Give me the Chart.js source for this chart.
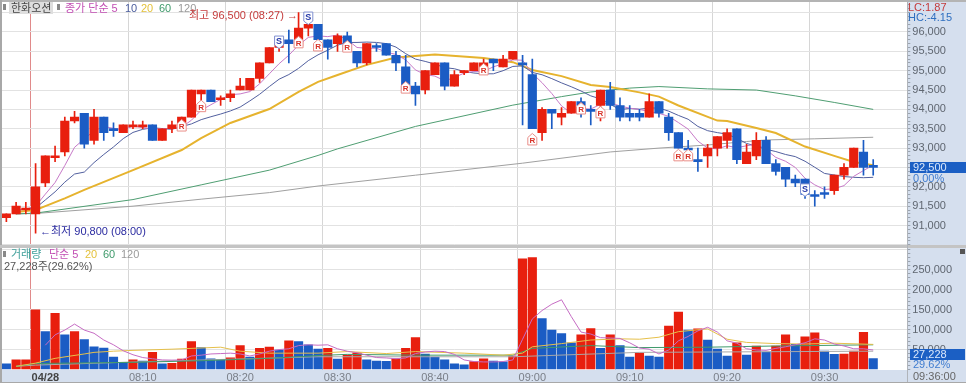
<!DOCTYPE html>
<html lang="ko"><head><meta charset="utf-8"><title>한화오션</title>
<script src="https://cdn.jsdelivr.net/npm/chart.js@4/dist/chart.umd.min.js"></script>
<style>
html,body{margin:0;padding:0;background:#d5dfee;overflow:hidden}
#w{position:relative;width:966px;height:383px;overflow:hidden;background:#d5dfee;font:11px "Liberation Sans","Noto Sans CJK KR",sans-serif;filter:blur(0.35px)}
canvas{position:absolute;left:0;display:block}
#w span{position:absolute;line-height:14px;white-space:nowrap}
#w i{position:absolute;display:block}
</style></head><body>
<div id="w">
<canvas id="priceCanvas" width="966" height="246" style="top:0"></canvas>
<canvas id="volCanvas" width="966" height="137" style="top:246px"></canvas>
<i style="left:0;top:0;width:966px;height:2px;background:#b4b4b4"></i>
<i style="left:0;top:0;width:2px;height:383px;background:#a8a8a8"></i>
<i style="left:0;top:245px;width:966px;height:3px;background:#c4c4c4"></i>
<i style="left:907px;top:0;width:1px;height:383px;background:#b0b4ba"></i>
<i style="left:0;top:382px;width:966px;height:1px;background:#a8a8a8"></i>
<i style="left:3px;top:4px;width:3px;height:6px;background:#888"></i>
<i style="left:9px;top:2px;width:44px;height:12px;background:#dedede"></i>
<span style="left:11px;top:1px;color:#444">한화오션</span>
<i style="left:57px;top:4px;width:3px;height:6px;background:#888"></i>
<span style="left:65px;top:1px;color:#c24fb4">종가 단순 5</span>
<span style="left:125px;top:1px;color:#4a5c9c">10</span>
<span style="left:141px;top:1px;color:#e4c23c">20</span>
<span style="left:159px;top:1px;color:#3f9a6b">60</span>
<span style="left:178px;top:1px;color:#9a9a9a">120</span>
<span style="left:189px;top:8px;color:#c43a3a">최고 96,500 (08:27) →</span>
<span style="left:40px;top:224px;color:#2b2ba0">←최저 90,800 (08:00)</span>
<span style="left:908px;top:0;color:#c43a3a">LC:1.87</span>
<span style="left:908px;top:10px;color:#2f6fc0">HC:-4.15</span>
<i style="left:910px;top:162px;width:56px;height:11px;background:#1b5fc4"></i>
<span style="left:913px;top:160px;color:#dbe8fb">92,500</span>
<span style="left:913px;top:171px;color:#3f7cd0">0.00%</span>
<i style="left:3px;top:251px;width:3px;height:6px;background:#888"></i>
<span style="left:11px;top:247px;color:#3f9f9a">거래량</span>
<span style="left:49px;top:247px;color:#c24fb4">단순 5</span>
<span style="left:85px;top:247px;color:#e4c23c">20</span>
<span style="left:103px;top:247px;color:#3f9a6b">60</span>
<span style="left:121px;top:247px;color:#9a9a9a">120</span>
<span style="left:4px;top:259px;color:#555">27,228주(29.62%)</span>
<i style="left:960px;top:249px;width:5px;height:5px;background:#555"></i>
<i style="left:910px;top:349px;width:55px;height:11px;background:#1b5fc4"></i>
<span style="left:913px;top:347px;color:#dbe8fb">27,228</span>
<span style="left:913px;top:357px;color:#3f7cd0">29.62%</span>
<span style="left:913px;top:369px;color:#666">09:36:00</span>
</div>
<script>
const categories=['07:57','07:58','07:59','08:00','08:01','08:02','08:03','08:04','08:05','08:06','08:07','08:08','08:09','08:10','08:11','08:12','08:13','08:14','08:15','08:16','08:17','08:18','08:19','08:20','08:21','08:22','08:23','08:24','08:25','08:26','08:27','08:28','08:29','08:30','08:31','08:32','08:33','08:34','08:35','08:36','08:37','08:38','08:39','08:40','08:41','08:42','08:43','08:44','08:45','08:46','08:47','08:48','08:49','09:00','09:01','09:02','09:03','09:04','09:05','09:06','09:07','09:08','09:09','09:10','09:11','09:12','09:13','09:14','09:15','09:16','09:17','09:18','09:19','09:20','09:21','09:22','09:23','09:24','09:25','09:26','09:27','09:28','09:29','09:30','09:31','09:32','09:33','09:34','09:35','09:36','09:37','09:38','09:39'];
const xTickBars=['08:00','08:10','08:20','08:30','08:40','09:00','09:10','09:20','09:30'];
const xTickLabels=['04/28','08:10','08:20','08:30','08:40','09:00','09:10','09:20','09:30'];
const priceTicks=[91000,91500,92000,92500,93000,93500,94000,94500,95000,95500,96000];
const volTicks=[50000,100000,150000,200000,250000];
const opens=[91200,91300,91400,91300,92100,92750,92900,93700,93900,93200,93800,93500,93400,93550,93550,93600,93200,93500,93600,93800,94400,94500,94250,94300,94500,94500,94800,95200,95600,95800,95650,96100,96200,95800,95700,95900,95500,95200,95600,95700,95400,95100,94600,94500,94900,95200,94600,94950,95000,95000,95300,95100,95300,95200,94900,93400,94000,93800,93900,94200,94000,94100,94500,94100,93900,93900,93800,94200,93800,93400,93000,92700,92800,93000,93200,93500,92600,92800,93200,92600,92500,92200,92200,91800,91800,91900,92300,92500,92900,92500];
const closes=[91300,91500,91450,92000,92800,92800,93700,93800,93100,93800,93400,93450,93600,93600,93600,93200,93500,93600,93800,94500,94500,94200,94300,94400,94600,94800,95200,95600,95700,95700,96100,96200,95800,95600,95900,95500,95200,95700,95600,95400,95200,94500,94400,95000,95200,94600,94900,95000,95200,95200,95200,95300,95500,95150,93500,94000,93900,93900,94200,94100,93950,94500,94100,93800,93800,93800,94200,93900,93400,93000,92950,92650,93000,93300,93400,92700,92900,93200,92600,92400,92200,92100,91800,91750,91800,92300,92500,93000,92500,92500];
const highs=[91300,91600,91600,92600,92800,93050,93800,93950,93900,94000,93800,93650,93600,93700,93700,93600,93500,93700,93800,94500,94500,94500,94350,94500,94800,94800,95200,95600,95800,96050,96500,96300,96200,95800,95950,96000,95500,95700,95700,95700,95500,95400,94700,95000,95200,95200,95000,95000,95200,95300,95300,95400,95500,95400,95300,94050,94000,94050,94200,94300,94100,94500,94700,94300,94100,94000,94400,94200,93900,93400,93200,93000,93100,93300,93500,93500,93100,93400,93300,92700,92500,92300,92200,91900,92000,92300,92600,93000,93200,92700];
const lows=[91100,91300,91300,90800,92000,92650,92800,93650,93000,93100,93200,93300,93400,93500,93500,93200,93200,93400,93600,93800,94200,94200,94100,94200,94500,94500,94700,95200,95500,95200,95650,95900,95800,95300,95500,95500,95100,95150,95500,95400,95000,94500,94100,94400,94900,94500,94600,94900,95000,94900,95000,95100,95300,93600,93500,93200,93500,93600,93900,93800,93600,93700,94000,93700,93700,93700,93800,93800,93200,93000,92700,92400,92500,92800,93000,92600,92600,92700,92600,92300,92000,92000,91700,91500,91700,91800,92200,92500,92300,92300];
const ma5=[null,91400,91420,91500,91810,92110,92550,93020,93240,93440,93560,93510,93470,93570,93530,93490,93500,93500,93540,93720,93980,94120,94260,94380,94400,94460,94660,94920,95180,95400,95660,95860,95900,95880,95920,95800,95600,95580,95580,95480,95420,95280,95020,94900,94860,94740,94820,94940,94980,94980,95100,95180,95280,95270,94930,94690,94410,94090,93900,94020,94010,94130,94170,94090,94030,94000,93940,93900,93820,93660,93490,93180,93000,92980,93060,93010,93060,93100,92960,92760,92660,92500,92220,92050,91930,91950,92030,92270,92420,92560];
const ma10=[null,91400,91420,91450,91660,91870,92120,92330,92380,92625,92835,93030,93245,93405,93485,93525,93505,93485,93555,93625,93735,93810,93880,93960,94060,94220,94390,94590,94780,94900,95060,95260,95410,95530,95660,95730,95730,95740,95730,95700,95610,95440,95300,95240,95170,95080,95050,94980,94940,94920,94920,95000,95110,95125,94955,94895,94795,94685,94585,94475,94350,94270,94130,93995,94025,94005,94035,94035,93955,93845,93745,93560,93450,93400,93360,93250,93120,93050,92970,92910,92835,92780,92660,92505,92345,92305,92265,92245,92235,92245];
const ma20Bars=[1,3,4,6,8,13,18,20,23,25,27,30,32,34,37,40,42,44,49,52,54,57,60,62,65,67,69,73,74,77,79,82,85,87,89];
const ma20=[91350,91400,91500,91700,91920,92430,92950,93260,93650,93830,94010,94450,94710,94890,95150,95340,95380,95420,95330,95220,95020,94860,94630,94580,94440,94330,94100,93710,93700,93520,93390,93040,92800,92640,92560];
const ma60Bars=[1,3,13,20,27,32,34,42,52,57,60,64,67,72,77,81,85,89];
const ma60=[91300,91320,91670,92050,92430,92810,92980,93560,94110,94330,94450,94550,94590,94530,94500,94350,94180,94000];
const ma120Bars=[1,3,13,20,27,32,42,53,62,67,72,76,78,83,89];
const ma120=[91300,91310,91500,91680,91850,92020,92300,92610,92900,93000,93080,93170,93210,93240,93280];
const rBars=[18,20,30,32,35,41,49,54,59,61,69,70];
const rPrices=[93570,94070,95720,95640,95610,94550,95020,93210,94010,93910,92800,92800];
const sBars=[28,31,82];
const sPrices=[95740,96360,91920];
const volumes=[14000,24000,24000,150000,95000,141000,87000,95000,75000,57000,54000,31000,18000,24000,21000,43000,14000,15500,26000,70000,55000,27000,24000,29000,60000,31000,53000,56000,49000,72000,70000,62000,51000,53000,26000,36000,42000,24000,21000,20500,27000,53000,80000,39000,31000,24000,14000,12000,20000,27000,21000,19000,34000,278000,281000,128000,99000,90000,67000,87000,103000,53000,87000,60000,31000,41000,34000,31000,109000,144000,99000,102000,74000,51000,34000,67000,36000,59000,44000,59000,87000,63000,82000,92000,46000,38000,38500,46000,93000,27228];
const volMa5=[null,null,null,null,61000,87000,99000,114000,99000,91000,74000,62000,47000,37000,30000,27000,24000,23500,24000,34000,36000,39000,40000,41000,39000,34000,39000,46000,50000,52000,60000,62000,61000,62000,52000,46000,42000,36000,30000,29000,27000,29000,40000,44000,46000,45000,38000,24000,20000,19000,19000,20000,24000,76000,127000,148000,164000,175000,133000,94000,89000,80000,79000,78000,67000,54000,51000,39000,49000,72000,83000,97000,106000,94000,72000,66000,52000,49000,48000,53000,57000,62000,67000,77000,74000,64000,59000,52000,52000,49000];
const volMa20Bars=[1,3,5,8,9,11,13,17,22,24,27,32,35,39,42,47,51,53,54,57,60,63,65,67,69,72,74,76,79,82,85,89];
const volMa20=[8000,16000,28000,39000,43000,46000,48000,51000,56000,46000,41000,41000,45000,40000,45000,41000,36000,41000,57000,65000,74000,77000,76000,81000,95000,102000,76000,68000,65000,64000,66000,63000];
const volMa60Bars=[1,3,13,20,27,32,35,42,52,54,60,65,72,79,89];
const volMa60=[8000,15000,18000,22000,28000,35000,38000,36000,36000,53000,60000,55000,56000,59000,62000];
const volMa120Bars=[1,3,16,32,52,65,89];
const volMa120=[8000,11000,21000,32000,32000,43000,46000];

const RED='#e81f0e',BLUE='#1b5cc4';
const PLOT_LEFT=1.5,AXIS_W=58.7;
const sparse=(bars,vals)=>{const a=new Array(opens.length).fill(null);bars.forEach((b,k)=>a[b]=vals[k]);return a;};
const lineDs=(data,color,width,order)=>({type:'line',data,borderColor:color,borderWidth:width,pointRadius:0,tension:0,spanGaps:true,order});
const plotBg={id:'plotBg',beforeDraw(c){const a=c.chartArea,x=c.ctx;x.save();x.fillStyle='#fff';x.fillRect(a.left,a.top,a.width,a.height);x.restore();}};
const badges={id:'badges',afterDatasetsDraw(c){
 const x=c.ctx,sx=c.scales.x,sy=c.scales.y;
 x.save();x.textAlign='center';x.textBaseline='middle';
 rBars.forEach((b,k)=>{const px=sx.getPixelForValue(b),py=sy.getPixelForValue(rPrices[k]);
  x.beginPath();x.moveTo(px,py-6.5);x.lineTo(px+4.5,py-2.5);x.lineTo(px+4.5,py+5);x.lineTo(px-4.5,py+5);x.lineTo(px-4.5,py-2.5);x.closePath();
  x.fillStyle='#fff';x.fill();x.strokeStyle='#ea8f8a';x.lineWidth=1;x.stroke();
  x.fillStyle='#d8342a';x.font='bold 8px "Liberation Sans"';x.fillText('R',px,py+1);});
 sBars.forEach((b,k)=>{const px=sx.getPixelForValue(b),py=sy.getPixelForValue(sPrices[k]);
  x.beginPath();x.moveTo(px-4.5,py-6);x.lineTo(px+4.5,py-6);x.lineTo(px+4.5,py+3);x.lineTo(px,py+6.5);x.lineTo(px-4.5,py+3);x.closePath();
  x.fillStyle='#fff';x.fill();x.strokeStyle='#7f8fd0';x.lineWidth=1;x.stroke();
  x.fillStyle='#2438a8';x.font='bold 9px "Liberation Sans"';x.fillText('S',px,py-0.5);});
 x.restore();}};
const gridX={offset:true,drawTicks:false,color:c=>{const l=c.tick&&categories[c.tick.value];if(l==='08:00')return '#e08a8a';return xTickBars.includes(l)?'#d6d6d6':'transparent';},lineWidth:1};
const fitX=h=>s=>{s.height=h;s.paddingLeft=0;s.paddingRight=0;s.paddingTop=0;s.paddingBottom=0;};
const fitY=s=>{s.width=AXIS_W;s.paddingTop=0;s.paddingBottom=0;s.paddingLeft=0;s.paddingRight=0;};
const yAxis=(min,max,major,minorStep,gridList)=>({position:'right',min,max,border:{display:false},afterFit:fitY,
 afterBuildTicks(s){const t=[];for(let v=Math.ceil(min/minorStep)*minorStep;v<=max;v+=minorStep)t.push({value:v});s.ticks=t;},
 ticks:{autoSkip:false,padding:2,color:'#5f6670',font:{family:'"Liberation Sans"',size:11},callback:v=>major.includes(v)?v.toLocaleString('en-US'):''},
 grid:{drawTicks:true,tickLength:3,tickColor:'#9aa3af',lineWidth:1,color:c=>gridList(c.tick.value)?'#e2e2e2':'transparent'}});

new Chart(document.getElementById('priceCanvas'),{
 data:{labels:categories,datasets:[
  {type:'bar',data:opens.map((o,i)=>[o,closes[i]]),grouped:false,barThickness:8.5,minBarLength:2,backgroundColor:c=>closes[c.dataIndex]>opens[c.dataIndex]?RED:BLUE,order:0},
  {type:'bar',data:lows.map((l,i)=>[l,highs[i]]),grouped:false,barThickness:1,backgroundColor:c=>closes[c.dataIndex]>opens[c.dataIndex]?RED:BLUE,order:1},
  lineDs(ma5,'#c77ac8',1,2),
  lineDs(ma10,'#52609f',1,3),
  lineDs(sparse(ma20Bars,ma20),'#e6b32e',2,4),
  lineDs(sparse(ma60Bars,ma60),'#4f9e72',1,5),
  lineDs(sparse(ma120Bars,ma120),'#a0a0a0',1,6)
 ]},
 plugins:[plotBg,badges],
 options:{responsive:false,animation:false,events:[],layout:{padding:{left:PLOT_LEFT,top:2,right:0,bottom:0}},
  plugins:{legend:{display:false},tooltip:{enabled:false}},
  scales:{
   x:{afterFit:fitX(1),border:{display:false},grid:gridX,ticks:{display:false,autoSkip:false}},
   y:yAxis(90496,96775,priceTicks,100,v=>v%500===0)
  }}});

new Chart(document.getElementById('volCanvas'),{
 data:{labels:categories,datasets:[
  lineDs(volMa5,'#c66cc4',1,0),
  lineDs(sparse(volMa20Bars,volMa20),'#e6c04a',1,1),
  lineDs(sparse(volMa60Bars,volMa60),'#3f9a6b',1,2),
  lineDs(sparse(volMa120Bars,volMa120),'#a8a8a8',1,3),
  {type:'bar',data:volumes,barThickness:8.5,backgroundColor:c=>c.dataIndex>0&&volumes[c.dataIndex]>=volumes[c.dataIndex-1]?RED:BLUE,order:4}
 ]},
 plugins:[plotBg],
 options:{responsive:false,animation:false,events:[],layout:{padding:{left:PLOT_LEFT,top:2,right:0,bottom:0}},
  plugins:{legend:{display:false},tooltip:{enabled:false}},
  scales:{
   x:{afterFit:fitX(13),border:{display:false},grid:gridX,
    ticks:{autoSkip:false,maxRotation:0,minRotation:0,align:'start',labelOffset:-4,padding:1,
     color:c=>c.index===3?'#444':'#7a7f88',
     font:c=>({family:'"Liberation Sans"',size:11,weight:c.index===3?'bold':'normal'}),
     callback:(v,i)=>{const k=xTickBars.indexOf(categories[i]);return k<0?'':xTickLabels[k];}}},
   y:yAxis(-1250,305000,volTicks,10000,v=>v>0&&v%50000===0)
  }}});
</script>
</body></html>
